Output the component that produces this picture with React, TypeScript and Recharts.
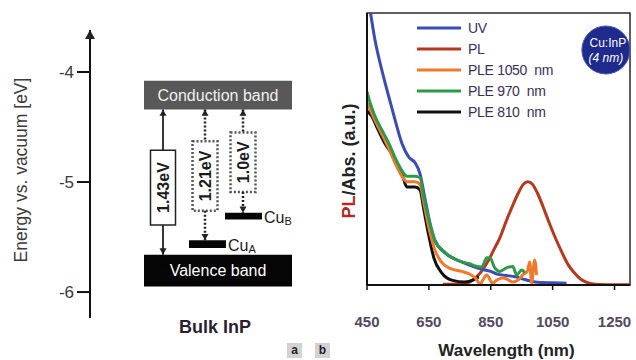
import React from "react";
import {
  ComposedChart,
  LineChart,
  Line,
  Scatter,
  XAxis,
  YAxis,
  ReferenceArea,
  ReferenceLine,
  ReferenceDot,
  Legend,
} from "recharts";

const FONT = '"Liberation Sans", Arial, sans-serif';

// ---------- panel a: band diagram, energies in eV vs vacuum ----------
const energyTicks = [-6, -5, -4];
const energyDomain = [-6.236, -3.618];
const conduction = { name: "Conduction band", top: -4.08, bottom: -4.34 };
const valence = { name: "Valence band", top: -5.66, bottom: -5.95 };
const cuLevels = [
  { sub: "A", top: -5.53, bottom: -5.6 },
  { sub: "B", top: -5.28, bottom: -5.34 },
];
const gapLabels = ["1.43eV", "1.21eV", "1.0eV"];
const gapEnds = [valence.top, cuLevels[0].top, cuLevels[1].top];
const gapBoxTop = [-4.71, -4.63, -4.55];
const gapBoxBottom = [-5.39, -5.26, -5.09];

// horizontal layout of panel a (px right of the energy axis)
const bandX = [54, 202];
const gapX = [73, 115, 153];
const cuX = [
  [99, 136],
  [135, 172],
];

// ---------- panel b: spectra ----------
const uvW = [450, 460, 476, 498, 521, 540, 563, 585, 605, 621, 637, 653, 669, 702, 756, 798, 831, 850, 870, 900, 930, 960, 1000, 1050, 1095];
const uvV = [1.08, 1.01, 0.9, 0.79, 0.69, 0.61, 0.52, 0.47, 0.45, 0.41, 0.32, 0.23, 0.165, 0.118, 0.085, 0.066, 0.055, 0.05, 0.04, 0.035, 0.03, 0.02, 0.01, 0.008, 0.006];

const plW = [695, 750, 780, 800, 820, 840, 860, 880, 900, 920, 940, 955, 970, 985, 1000, 1020, 1040, 1060, 1080, 1100, 1120, 1140, 1160, 1180, 1200, 1250, 1300];
const plV = [0.003, 0.005, 0.01, 0.025, 0.05, 0.085, 0.13, 0.175, 0.235, 0.29, 0.34, 0.37, 0.38, 0.37, 0.34, 0.285, 0.225, 0.17, 0.12, 0.075, 0.045, 0.022, 0.01, 0.004, 0.002, 0.001, 0.001];

const ple1050W = [450, 462, 478, 500, 521, 540, 563, 579, 605, 621, 634, 650, 669, 690, 720, 756, 782, 800, 815, 837, 856, 872, 889, 905, 921, 940, 953, 968, 976, 982, 992, 998];
const ple1050V = [0.67, 0.64, 0.6, 0.55, 0.5, 0.45, 0.4, 0.38, 0.38, 0.37, 0.3, 0.21, 0.13, 0.085, 0.06, 0.05, 0.04, 0.026, 0.005, 0.037, 0.007, 0.02, 0.026, 0.02, 0.011, 0.02, 0.037, 0.05, 0.085, 0.007, 0.092, 0.037];

const ple970W = [450, 460, 476, 498, 521, 540, 563, 579, 605, 621, 634, 650, 669, 702, 756, 782, 800, 821, 837, 847, 863, 879, 902, 921, 934, 950, 960];
const ple970V = [0.71, 0.67, 0.62, 0.57, 0.52, 0.47, 0.42, 0.4, 0.4, 0.395, 0.32, 0.24, 0.165, 0.12, 0.085, 0.078, 0.07, 0.066, 0.1, 0.1, 0.063, 0.05, 0.064, 0.068, 0.037, 0.055, 0.045];

const ple810W = [450, 466, 482, 508, 537, 563, 579, 605, 621, 634, 650, 666, 692, 724, 766, 795, 811];
const ple810V = [0.64, 0.62, 0.58, 0.52, 0.47, 0.41, 0.36, 0.36, 0.35, 0.275, 0.18, 0.1, 0.044, 0.018, 0.011, 0.02, 0.03];

const toPoints = (w: number[], v: number[]) => w.map((x, i) => ({ w: x, v: v[i] }));

const series = [
  { key: "uv", name: "UV", color: "#3b4cb4", data: toPoints(uvW, uvV) },
  { key: "pl", name: "PL", color: "#b5381f", data: toPoints(plW, plV) },
  { key: "ple1050", name: "PLE 1050  nm", color: "#f07a2a", data: toPoints(ple1050W, ple1050V) },
  { key: "ple970", name: "PLE 970  nm", color: "#2e9a48", data: toPoints(ple970W, ple970V) },
  { key: "ple810", name: "PLE 810  nm", color: "#111111", data: toPoints(ple810W, ple810V) },
];
const drawOrder = ["pl", "uv", "ple810", "ple1050", "ple970"];
const wavelengthTicks = [450, 650, 850, 1050, 1250];

const arrowHead = (dir: "up" | "down", size = 4) => (p: any) => {
  const { cx, cy } = p;
  if (cx == null || cy == null) return <g />;
  const d =
    dir === "up"
      ? `M${cx},${cy} L${cx - size},${cy + size * 1.8} L${cx + size},${cy + size * 1.8} Z`
      : `M${cx},${cy} L${cx - size},${cy - size * 1.8} L${cx + size},${cy - size * 1.8} Z`;
  return <path d={d} fill="#222" />;
};

const gapTops = gapLabels.map((g, i) => ({ x: gapX[i], e: conduction.bottom }));
const gapBottoms = gapLabels.map((g, i) => ({ x: gapX[i], e: gapEnds[i] }));

function BandDiagram() {
  return (
    <ComposedChart width={320} height={360} data={gapBottoms} margin={{ top: 30, right: 10, bottom: 0, left: 0 }}>
      <XAxis
        type="number"
        dataKey="x"
        domain={[0, 220]}
        allowDataOverflow
        height={42}
        tick={false}
        tickLine={false}
        axisLine={false}
        label={{
          value: "Bulk InP",
          position: "insideTop",
          offset: 2,
          dx: 15,
          fill: "#2a1f2f",
          fontSize: 18,
          fontWeight: 700,
          fontFamily: FONT,
        }}
      />
      <YAxis
        type="number"
        dataKey="e"
        domain={energyDomain}
        ticks={energyTicks}
        allowDataOverflow
        width={90}
        tickSize={13}
        tickMargin={3}
        axisLine={{ stroke: "#111", strokeWidth: 2 }}
        tickLine={{ stroke: "#111", strokeWidth: 2 }}
        tick={{ fill: "#3a3a3a", fontSize: 17, fontFamily: FONT }}
        label={(props: any) => {
          const vb = props.viewBox || { y: 30, height: 288 };
          const cy = vb.y + vb.height / 2 - 4;
          return (
            <text
              transform={`translate(27, ${cy}) rotate(-90)`}
              textAnchor="middle"
              fill="#3a3a3a"
              fontSize={17.5}
              fontFamily={FONT}
            >
              Energy vs. vacuum [eV]
            </text>
          );
        }}
      />
      <ReferenceDot x={0} y={energyDomain[1]} shape={arrowHead("up", 5)} ifOverflow="visible" />

      <ReferenceArea
        x1={bandX[0]}
        x2={bandX[1]}
        y1={conduction.bottom}
        y2={conduction.top}
        fill="#585858"
        fillOpacity={1}
        label={{ value: conduction.name, position: "center", fill: "#f0f0f0", fontSize: 16, fontFamily: FONT }}
      />
      <ReferenceArea
        x1={bandX[0]}
        x2={bandX[1]}
        y1={valence.bottom}
        y2={valence.top}
        fill="#050505"
        fillOpacity={1}
        label={{ value: valence.name, position: "center", fill: "#ffffff", fontSize: 16, fontFamily: FONT }}
      />

      {cuLevels.map((c, i) => (
        <ReferenceArea
          key={c.sub}
          x1={cuX[i][0]}
          x2={cuX[i][1]}
          y1={c.bottom}
          y2={c.top}
          fill="#050505"
          fillOpacity={1}
          label={(props: any) => {
            const vb = props.viewBox;
            if (!vb) return null;
            return (
              <text
                x={vb.x + vb.width + 2}
                y={vb.y + vb.height / 2 + 7}
                fill="#1a1a1a"
                fontSize={16}
                fontFamily={FONT}
              >
                Cu
                <tspan fontSize={11} dy={2}>
                  {c.sub}
                </tspan>
              </text>
            );
          }}
        />
      ))}

      {gapLabels.map((g, i) => {
        const dashed = i > 0;
        const common = {
          stroke: "#222",
          strokeWidth: dashed ? 2.5 : 1.8,
          strokeDasharray: dashed ? "2 2" : undefined,
        };
        return (
          <React.Fragment key={"l" + g}>
            <ReferenceLine
              segment={[
                { x: gapX[i], y: conduction.bottom },
                { x: gapX[i], y: gapBoxTop[i] },
              ]}
              {...common}
            />
            <ReferenceLine
              segment={[
                { x: gapX[i], y: gapBoxBottom[i] },
                { x: gapX[i], y: gapEnds[i] },
              ]}
              {...common}
            />
          </React.Fragment>
        );
      })}
      {gapLabels.map((g, i) => {
        const dashed = i > 0;
        return (
          <ReferenceArea
            key={"b" + g}
            x1={gapX[i] - 12.5}
            x2={gapX[i] + 12.5}
            y1={gapBoxBottom[i]}
            y2={gapBoxTop[i]}
            fill="#ffffff"
            fillOpacity={1}
            stroke={dashed ? "#555" : "#222"}
            strokeWidth={dashed ? 2.5 : 1.5}
            strokeDasharray={dashed ? "2 2" : undefined}
            label={{
              value: g,
              position: "center",
              angle: -90,
              fill: "#1a1a1a",
              fontSize: 16,
              fontWeight: 700,
              fontFamily: FONT,
            }}
          />
        );
      })}
      <Scatter data={gapTops} dataKey="e" shape={arrowHead("up", 3.5)} isAnimationActive={false} />
      <Scatter data={gapBottoms} dataKey="e" shape={arrowHead("down", 3.5)} isAnimationActive={false} />
    </ComposedChart>
  );
}

function SpectraLegend() {
  return (
    <div style={{ fontFamily: FONT }}>
      {series.map((s) => (
        <div key={s.key} style={{ display: "flex", alignItems: "center", height: 21 }}>
          <svg width={44} height={6}>
            <line x1={0} y1={3} x2={44} y2={3} stroke={s.color} strokeWidth={3} />
          </svg>
          <span style={{ marginLeft: 7, fontSize: 14, color: "#3a2f55", whiteSpace: "pre", letterSpacing: -0.3 }}>
            {s.name}
          </span>
        </div>
      ))}
    </div>
  );
}

function Spectra() {
  return (
    <LineChart width={316} height={360} margin={{ top: 13, right: 6, bottom: 0, left: 0 }}>
      <ReferenceArea x1={450} x2={1300} y1={0} y2={1} fill="none" stroke="#2a2a2a" strokeWidth={1.5} />
      <XAxis
        type="number"
        dataKey="w"
        domain={[450, 1300]}
        ticks={wavelengthTicks}
        allowDataOverflow
        height={75}
        tickSize={5}
        tickMargin={26}
        axisLine={{ stroke: "#111", strokeWidth: 2 }}
        tickLine={{ stroke: "#111", strokeWidth: 1.5 }}
        tick={{ fill: "#54475f", fontSize: 15, fontWeight: 700, fontFamily: FONT }}
        label={{
          value: "Wavelength (nm)",
          position: "insideBottom",
          offset: 4,
          dx: 8,
          fill: "#222",
          fontSize: 17,
          fontWeight: 700,
          fontFamily: FONT,
        }}
      />
      <YAxis
        type="number"
        domain={[0, 1]}
        allowDataOverflow
        width={47}
        tick={false}
        tickLine={false}
        axisLine={{ stroke: "#111", strokeWidth: 2 }}
        label={() => (
          <text
            transform="translate(35, 161) rotate(-90)"
            textAnchor="middle"
            fontSize={18}
            fontWeight={700}
            fontFamily={FONT}
          >
            <tspan fill="#b02c25">PL</tspan>
            <tspan fill="#222">/Abs. (a.u.)</tspan>
          </text>
        )}
      />
      {drawOrder.map((k) => {
        const s = series.find((x) => x.key === k)!;
        return (
          <Line
            key={s.key}
            data={s.data}
            dataKey="v"
            name={s.name}
            type="monotone"
            stroke={s.color}
            strokeWidth={3}
            dot={false}
            isAnimationActive={false}
          />
        );
      })}
      <ReferenceDot
        x={1222}
        y={0.864}
        shape={(p: any) => (
          <g fontFamily={FONT}>
            <circle cx={p.cx} cy={p.cy} r={24} fill="#1e2a8c" stroke="#4a5ab8" strokeWidth={1} />
            <text x={p.cx + 2} y={p.cy - 3} textAnchor="middle" fill="#fff" fontSize={12}>
              Cu:InP
            </text>
            <text x={p.cx} y={p.cy + 12} textAnchor="middle" fill="#fff" fontSize={12} fontStyle="italic">
              (4 nm)
            </text>
          </g>
        )}
      />
      <Legend
        layout="vertical"
        align="center"
        verticalAlign="middle"
        content={() => <SpectraLegend />}
        wrapperStyle={{ top: 17, left: 97, width: "auto" }}
      />
    </LineChart>
  );
}

const tag = (left: number, letter: string) => (
  <div
    style={{
      position: "absolute",
      left,
      top: 343,
      width: 15,
      height: 15,
      background: "#d2d2d2",
      color: "#222",
      fontFamily: FONT,
      fontSize: 12,
      fontWeight: 700,
      textAlign: "center",
      lineHeight: "15px",
    }}
  >
    {letter}
  </div>
);

export default function App() {
  return (
    <div style={{ position: "absolute", left: 0, top: 0, width: 636, height: 360, background: "#fff" }}>
      <div style={{ position: "absolute", left: 0, top: 0 }}>
        <BandDiagram />
      </div>
      <div style={{ position: "absolute", left: 320, top: 0 }}>
        <Spectra />
      </div>
      {tag(287, "a")}
      {tag(315, "b")}
    </div>
  );
}
